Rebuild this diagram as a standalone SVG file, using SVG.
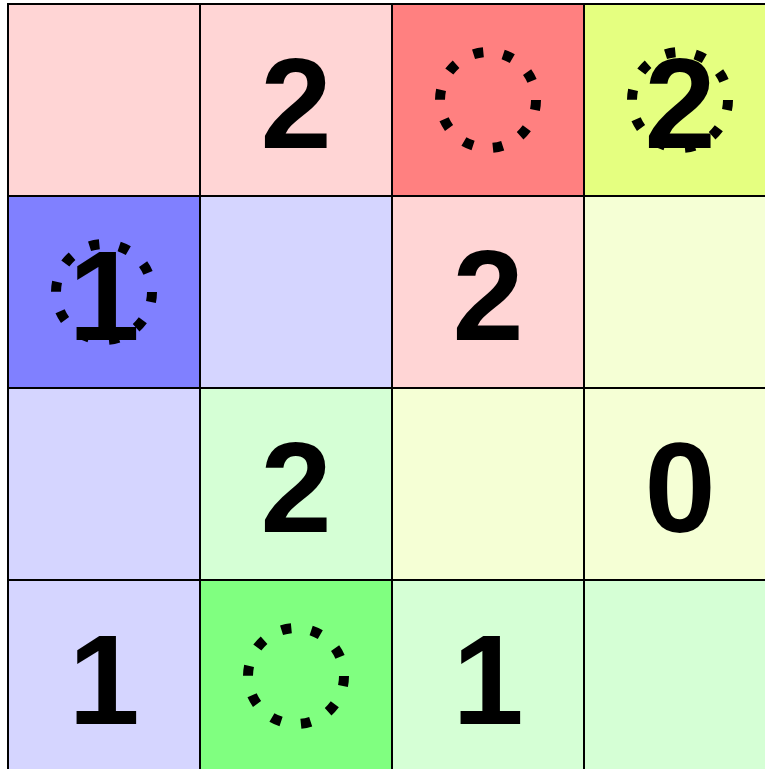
<svg xmlns="http://www.w3.org/2000/svg" width="765" height="769" viewBox="0 0 765 769">
<style>
.c{stroke:#000;stroke-width:2}
.d{fill:none;stroke:#000;stroke-width:10;stroke-dasharray:10 20.16}
.t{font-family:"Liberation Sans",Arial,sans-serif;font-weight:bold;font-size:128px;text-anchor:middle;fill:#000}
</style>
<rect width="765" height="769" fill="#fff"/>
<g id="r0c0"><rect class="c" x="8" y="4" width="192" height="192" fill="#FFD5D5"/></g>
<g id="r0c1"><rect class="c" x="200" y="4" width="192" height="192" fill="#FFD5D5"/><text class="t" x="296" y="148">2</text></g>
<g id="r0c2"><rect class="c" x="392" y="4" width="192" height="192" fill="#FF8080"/><circle class="d" cx="488" cy="100" r="48"/></g>
<g id="r0c3"><rect class="c" x="584" y="4" width="192" height="192" fill="#E5FF80"/><circle class="d" cx="680" cy="100" r="48"/><text class="t" x="680" y="148">2</text></g>
<g id="r1c0"><rect class="c" x="8" y="196" width="192" height="192" fill="#8080FF"/><circle class="d" cx="104" cy="292" r="48"/><text class="t" x="104" y="340">1</text></g>
<g id="r1c1"><rect class="c" x="200" y="196" width="192" height="192" fill="#D5D5FF"/></g>
<g id="r1c2"><rect class="c" x="392" y="196" width="192" height="192" fill="#FFD5D5"/><text class="t" x="488" y="340">2</text></g>
<g id="r1c3"><rect class="c" x="584" y="196" width="192" height="192" fill="#F5FFD5"/></g>
<g id="r2c0"><rect class="c" x="8" y="388" width="192" height="192" fill="#D5D5FF"/></g>
<g id="r2c1"><rect class="c" x="200" y="388" width="192" height="192" fill="#D5FFD5"/><text class="t" x="296" y="532">2</text></g>
<g id="r2c2"><rect class="c" x="392" y="388" width="192" height="192" fill="#F5FFD5"/></g>
<g id="r2c3"><rect class="c" x="584" y="388" width="192" height="192" fill="#F5FFD5"/><text class="t" x="680" y="532">0</text></g>
<g id="r3c0"><rect class="c" x="8" y="580" width="192" height="192" fill="#D5D5FF"/><text class="t" x="104" y="724">1</text></g>
<g id="r3c1"><rect class="c" x="200" y="580" width="192" height="192" fill="#80FF80"/><circle class="d" cx="296" cy="676" r="48"/></g>
<g id="r3c2"><rect class="c" x="392" y="580" width="192" height="192" fill="#D5FFD5"/><text class="t" x="488" y="724">1</text></g>
<g id="r3c3"><rect class="c" x="584" y="580" width="192" height="192" fill="#D5FFD5"/></g>
<g id="connectors"></g>
</svg>
